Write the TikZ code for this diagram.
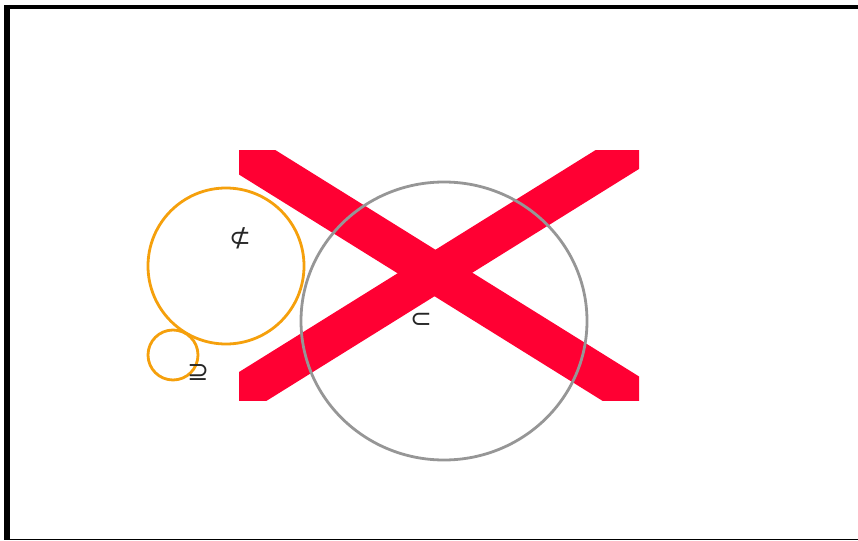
\documentclass[tikz,border=0pt]{standalone}
\usepackage{fontspec}
\setmainfont{DejaVu Sans}
\usetikzlibrary{calc,shapes.geometric}
\definecolor{crossred}{RGB}{255,0,51}
\definecolor{ringorange}{RGB}{245,160,12}
\definecolor{ringgray}{RGB}{150,150,150}
\begin{document}
\begin{tikzpicture}[x=1pt,y=-1pt,
  ring/.style={line width=2.8pt},
  sym/.style={font=\fontsize{26}{26}\selectfont, inner sep=0pt, text=black!85}]
\useasboundingbox (0,0) rectangle (858,540);
% frame
\draw[line width=6pt] (7,5) -- (7,540);
\draw[line width=4pt] (4,7) -- (858,7);
\draw[line width=1pt] (4,539.5) -- (858,539.5);
% orange circles
\node[ring, draw=ringorange, circle, minimum size=156pt, inner sep=0pt] (big) at (226,266) {};
\node[ring, draw=ringorange, circle, minimum size=50pt, inner sep=0pt] (small) at (173,355) {};
% red cross
\coordinate (tl) at (239,151);
\coordinate (br) at (639,400);
\coordinate (bl) at (239,395);
\coordinate (tr) at (639,146);
\begin{scope}
\clip (239,151) rectangle (639,400);
\draw[crossred, line width=40pt] ($(tl)!-0.2!(br)$) -- ($(tl)!1.2!(br)$);
\draw[crossred, line width=39pt] ($(bl)!-0.2!(tr)$) -- ($(bl)!1.2!(tr)$);
\end{scope}
% gray ellipse
\node[ring, draw=ringgray, ellipse, minimum width=286pt, minimum height=278pt, inner sep=0pt] (grayring) at (444,321) {};
% symbols
\node[sym] (s1) at (240,238) {⊄};
\node[sym] (s2) at (198,373) {⊇};
\node[sym] (s3) at (421,320) {⊂};
\end{tikzpicture}
\end{document}
